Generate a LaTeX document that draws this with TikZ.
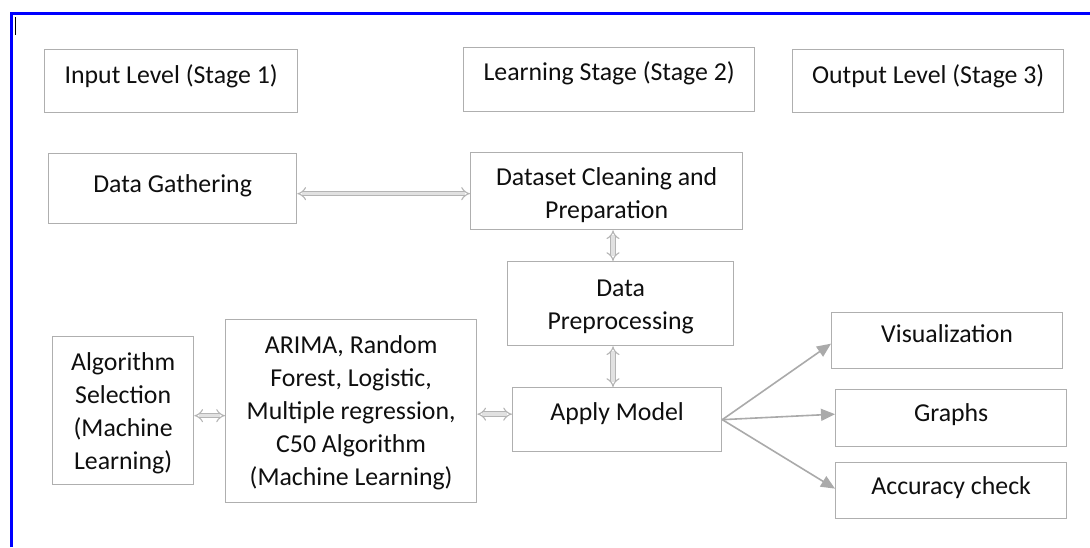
\documentclass[tikz,border=0pt]{standalone}
\usepackage{fontspec}
\setmainfont{Carlito}
\usetikzlibrary{arrows.meta,calc}

\definecolor{boxline}{RGB}{175,175,175}
\definecolor{arrowgray}{RGB}{170,170,170}
\definecolor{dblout}{RGB}{180,180,180}
\definecolor{dblin}{RGB}{225,225,225}
\definecolor{frameblue}{RGB}{0,0,255}
\definecolor{txtcol}{RGB}{15,15,15}

\tikzset{
  box/.style={draw=boxline, line width=1.3pt, fill=white, inner sep=0pt, anchor=north west},
  txt/.style={anchor=north, align=center, text=txtcol, inner sep=0pt,
    font=\fontsize{25.8}{33}\selectfont},
  dbl/.style={draw=dblout, line width=1.1pt, double=dblin, double distance=3.4pt,
    {Implies[length=5pt]}-{Implies[length=5pt]}},
  outarrow/.style={draw=arrowgray, line width=1.6pt,
    -{Triangle[length=14pt,width=12pt]}}
}

% box with its label: name, left, top, right, bottom, label drop, text
\newcommand{\wbox}[7]{%
  \node[box, minimum width=#4pt-#2pt, minimum height=#5pt-#3pt] (#1) at (#2,#3) {};
  \node[txt] (#1-t) at ([yshift=-#6pt]#1.north) {#7};
}

\begin{document}
\begin{tikzpicture}[x=1pt, y=-1pt]
\useasboundingbox (0,0) rectangle (1090,547);
\fill[white] (0,0) rectangle (1090,547);

% page frame and text cursor
\coordinate (fa) at (11,547);
\coordinate (fb) at (11,13);
\coordinate (fc) at (1090,13);
\draw[frameblue, line width=3pt] (fa) -- (fb) -- (fc);
\coordinate (ca) at (15,17);
\coordinate (cb) at (15,35);
\draw[black, line width=1pt] (ca) -- (cb);

% stage headers
\wbox{s1}{44}{49}{297}{112}{15}{Input Level (Stage 1)}
\wbox{s2}{463}{47}{754}{111}{14}{Learning Stage (Stage 2)}
\wbox{s3}{792}{49}{1063}{112}{15}{Output Level (Stage 3)}

% pipeline
\wbox{dg}{48}{153}{296}{223}{21}{Data Gathering}
\wbox{dc}{470}{152}{742}{229}{15}{Dataset Cleaning and\\Preparation}
\wbox{dp}{507}{261}{733}{345}{19}{Data\\Preprocessing}
\wbox{al}{52}{336}{193}{484}{16}{Algorithm\\Selection\\(Machine\\Learning)}
\wbox{ar}{225}{319}{476}{502}{16}{ARIMA, Random\\Forest, Logistic,\\Multiple regression,\\C50 Algorithm\\(Machine Learning)}
\wbox{am}{512}{387}{721}{451}{15}{Apply Model}

% outputs
\wbox{vi}{831}{312}{1062}{368}{12}{Visualization}
\wbox{gr}{835}{389}{1066}{446}{14}{Graphs}
\wbox{ac}{835}{462}{1066}{518}{14}{Accuracy check}

% two-way links
\coordinate (vx) at (613,0);
\draw[dbl] ([yshift=-5pt]dg.east) -- ([yshift=-5pt]dg.east -| dc.west);
\draw[dbl] (dc.south -| vx) -- (dp.north -| vx);
\draw[dbl] (dp.south -| vx) -- (am.north -| vx);
\draw[dbl] ([yshift=-5pt]al.east) -- ([yshift=-5pt]al.east -| ar.west);
\draw[dbl] ([yshift=-3pt]ar.east) -- ([yshift=-3pt]ar.east -| am.west);

% results
\draw[outarrow] (am.east) -- ([yshift=-3pt]vi.west);
\draw[outarrow] (am.east) -- ([yshift=4pt]gr.west);
\draw[outarrow] (am.east) -- ([yshift=2pt]ac.west);
\end{tikzpicture}
\end{document}
